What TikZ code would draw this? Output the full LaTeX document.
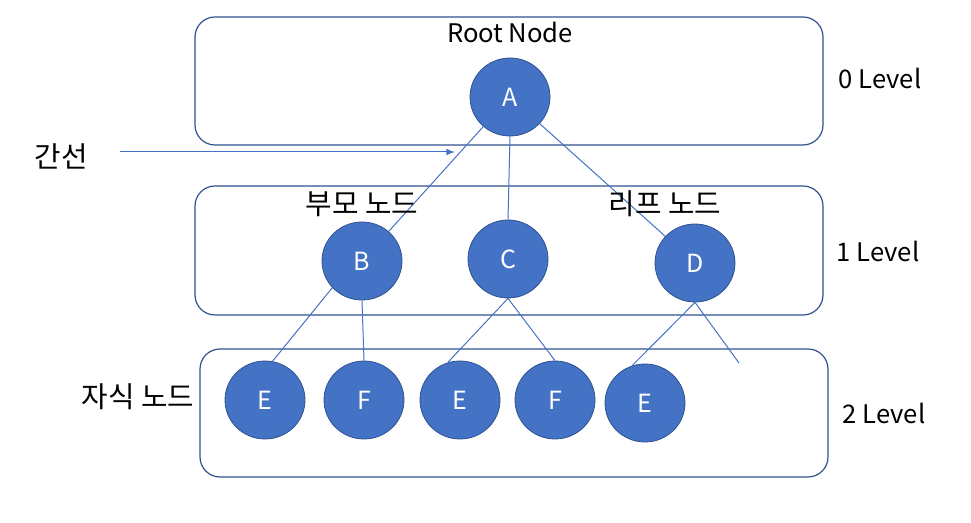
\documentclass[tikz,border=0pt]{standalone}
\usepackage{fontspec}
\setmainfont{Noto Sans CJK KR}
\usetikzlibrary{shapes.geometric}
\definecolor{nodeblue}{HTML}{4472C4}
\definecolor{rimblue}{HTML}{2F528F}
\tikzset{
    treenode/.style={ellipse, fill=nodeblue, draw=rimblue, line width=0.4pt,
        text=white, minimum width=40pt, minimum height=39pt, inner sep=0pt,
        font=\fontsize{12.5}{14}\selectfont},
    levelbox/.style={draw=rimblue, line width=0.6pt, rounded corners=10pt},
    link/.style={draw=nodeblue, line width=0.5pt},
    txt/.style={font=\fontsize{12.8}{15}\selectfont, inner sep=0pt},
    hangul/.style={font=\fontsize{14.4}{17}\selectfont, inner sep=0pt}
}
\begin{document}
\begin{tikzpicture}[x=0.5pt,y=-0.5pt]
\useasboundingbox (0,0) rectangle (971,523);
% level boxes
\draw[levelbox] (195,17) rectangle (823,145);
\draw[levelbox] (195,186) rectangle (823,315);
\draw[levelbox] (200,349) rectangle (828,477);

% nodes
\node[treenode] (A) at (510,97) {A};
\node[treenode] (B) at (362,261) {B};
\node[treenode] (C) at (508,259) {C};
\node[treenode] (D) at (695,263) {D};
\foreach \x/\name/\txt in {265/E1/E, 364/F1/F, 460/E2/E, 555/F2/F}
{
    \node[treenode] (\name) at (\x,400) {\txt};
}
\node[treenode] (E3) at (645,403) {E};
\coordinate (open) at (739,363);

% edges
\draw[link] (A) -- (B);
\draw[link] (A.south) -- (C.north);
\draw[link] (A) -- (D);
\draw[link] (B.222) -- (E1.79);
\draw[link] (B.south) -- (F1.north);
\draw[link] (C.south) -- (E2.108);
\draw[link] (C.south) -- (F2.north);
\draw[link] (D.south) -- (E3.109);
\draw[link] (D.south) -- (open);

% labels
\node[txt] (root) at (510,32) {Root Node};
\node[hangul] (parent) at (362,204) {부모 노드};
\node[hangul] (leaf) at (665,204) {리프 노드};
\node[hangul] (child) at (138,397) {자식 노드};
\node[hangul] (edge) at (61,156) {간선};
\foreach \x/\y/\n in {880/78/0, 878/251/1, 884/413/2}
{
    \node[txt] (lv\n) at (\x,\y) {\n\ Level};
}
\coordinate (tip) at (455,152);
\draw[link, -latex] (120,152) -- (tip);
\end{tikzpicture}
\end{document}
